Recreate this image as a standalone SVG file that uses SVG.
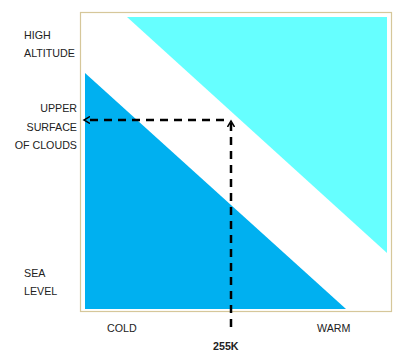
<svg xmlns="http://www.w3.org/2000/svg" width="400" height="362" viewBox="0 0 400 362">
<style>
.lbl{font-family:"Liberation Sans",Arial,sans-serif;font-size:10.7px;fill:#222}
.b{font-weight:bold}
.dash{stroke:#000;stroke-width:2.5;stroke-dasharray:8,6;fill:none}
</style>
<defs>
<marker id="ah" markerWidth="8" markerHeight="8" refX="6" refY="4" orient="auto" markerUnits="userSpaceOnUse">
<path d="M0,0.5 L6,4 L0,7.5" fill="none" stroke="#000" stroke-width="1.5"/>
</marker>
</defs>
<rect width="400" height="362" fill="#fff"/>
<g id="frame">
<rect x="80.5" y="12.5" width="311" height="299" fill="#fff" stroke="#d6c79a" stroke-width="1.2"/>
</g>
<g id="warm-region"><polygon points="127,17 387,17 387,253" fill="#66ffff"/></g>
<g id="cold-region"><polygon points="85,73 85,309 346,309" fill="#00b0f0"/></g>
<g id="connectors">
<path class="dash" d="M231,327 L231,121" marker-end="url(#ah)"/>
<path class="dash" d="M224,120 L84,120" marker-end="url(#ah)"/>
</g>
<g id="labels">
<text class="lbl" x="24" y="39">HIGH</text>
<text class="lbl" x="24" y="57">ALTITUDE</text>
<text class="lbl" x="77" y="112" text-anchor="end">UPPER</text>
<text class="lbl" x="77" y="131" text-anchor="end">SURFACE</text>
<text class="lbl" x="77" y="149" text-anchor="end">OF CLOUDS</text>
<text class="lbl" x="24" y="277">SEA</text>
<text class="lbl" x="24" y="295">LEVEL</text>
<text class="lbl" x="107" y="332">COLD</text>
<text class="lbl" x="317" y="332">WARM</text>
<text class="lbl b" x="213" y="350">255K</text>
</g>
</svg>
